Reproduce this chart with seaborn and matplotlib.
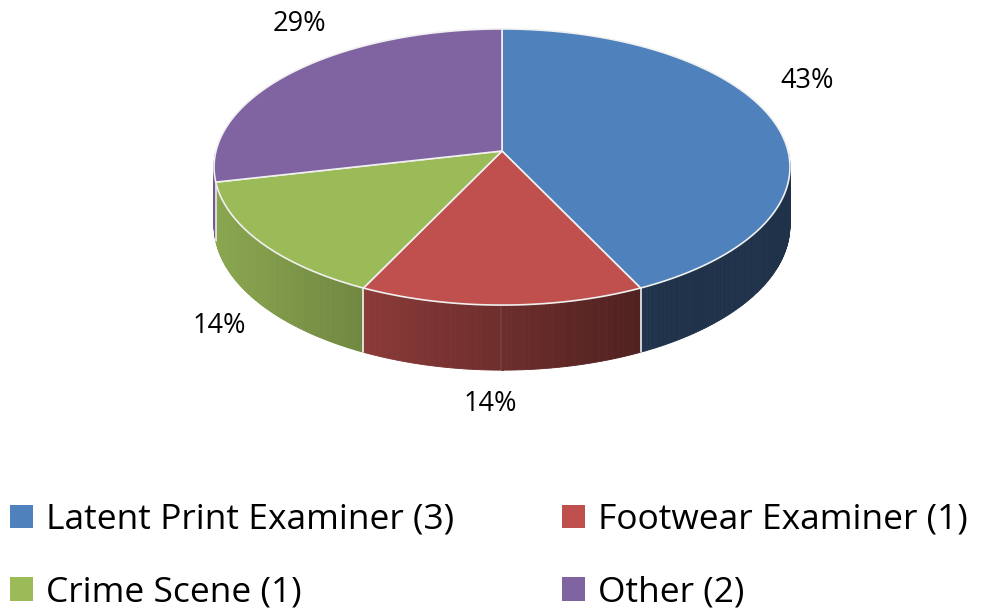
import numpy as np
import matplotlib.pyplot as plt
from matplotlib.patches import Polygon, Patch
from matplotlib.collections import PolyCollection
from matplotlib.colors import to_rgb
import seaborn as sns

# data
categories = ["Latent Print Examiner", "Footwear Examiner", "Crime Scene", "Other"]
counts = [3, 1, 1, 2]
colors = ["#4F81BD", "#C0504D", "#9BBB59", "#8064A2"]

sns.set_theme(style="white")
plt.rcParams['font.family'] = ['Open Sans', 'DejaVu Sans']

# geometry of the tilted pie, pixel space with y pointing down
cx, cy = 502, 151        # pie centre on screen
R, Rv = 286, 136.2       # horizontal / vertical radius
k = 0.116                # perspective strength (back shrinks, front grows)
D = 57.5                 # wall thickness
label_r = 1.12
label_nudge = [(2, -37), (-12, 14), (-10, 8), (29, -39)]


def proj(t, r=1.0, down=0.0):
    X, Z = r * np.sin(t), r * np.cos(t)
    f = 1.0 / (1.0 + k * Z)
    return cx + R * X * f, cy - Rv * Z * f + down * f


def shade(x):
    # walls darken from left to right
    return np.clip(0.72 - (x - 366) * 0.00113, 0.39, 1.0)


fracs = np.array(counts) / sum(counts)
bounds = np.concatenate([[0], np.cumsum(fracs)]) * 2 * np.pi

fig = plt.figure(figsize=(9.95, 6.12), dpi=100)
ax = fig.add_axes([0, 0, 1, 1])
ax.set_xlim(0, 995)
ax.set_ylim(612, 0)
ax.axis('off')

# side walls
for i, col in enumerate(colors):
    a = max(bounds[i], np.pi / 2)
    b = min(bounds[i + 1], 1.5 * np.pi)
    if b <= a:
        continue
    ts = np.linspace(a, b, int((b - a) / np.radians(0.5)) + 2)
    base = np.array(to_rgb(col))
    polys, fcs = [], []
    for t0, t1 in zip(ts[:-1], ts[1:]):
        p0, p1 = proj(t0), proj(t1)
        q0, q1 = proj(t0, down=D), proj(t1, down=D)
        polys.append([p0, p1, q1, q0])
        fcs.append(np.clip(base * shade((p0[0] + p1[0]) / 2), 0, 1))
    ax.add_collection(PolyCollection(polys, facecolors=fcs, edgecolors=fcs, linewidths=0.6, zorder=1))

# light seams on the wall where slices meet
for t in bounds:
    if np.pi / 2 < t < 1.5 * np.pi:
        p, q = proj(t), proj(t, down=D)
        ax.plot([p[0], q[0]], [p[1], q[1]], color="#f0f0f0", lw=1.2, zorder=2)

# top face
for i, col in enumerate(colors):
    ts = np.linspace(bounds[i], bounds[i + 1], 200)
    pts = [(cx, cy)] + [proj(t) for t in ts]
    ax.add_patch(Polygon(pts, closed=True, facecolor=col, edgecolor="#f0f0f0", lw=1.2, zorder=3))

# percentage labels
for i, n in enumerate(counts):
    m = (bounds[i] + bounds[i + 1]) / 2
    lx, ly = proj(m, r=label_r)
    if np.cos(m) < 0:
        ly += D * 1.1
    lx += label_nudge[i][0]
    ly += label_nudge[i][1]
    ax.text(lx, ly, f"{fracs[i]:.0%}", ha='center', va='center', fontsize=19.5, color='black')

# legend filled column-wise, so reorder to read row by row
order = [0, 2, 1, 3]
handles = [Patch(facecolor=colors[j], edgecolor='none') for j in order]
labels = [f"{categories[j]} ({counts[j]})" for j in order]
ax.legend(handles, labels, ncol=2, loc='upper left', bbox_to_anchor=(10 / 995, 1 - 503 / 612),
          frameon=False, fontsize=25.5, handlelength=0.65, handleheight=0.65, handletextpad=0.37,
          columnspacing=3.05, labelspacing=1.08, borderpad=0, borderaxespad=0, labelcolor='black')

fig.savefig("out.png", dpi=100)
